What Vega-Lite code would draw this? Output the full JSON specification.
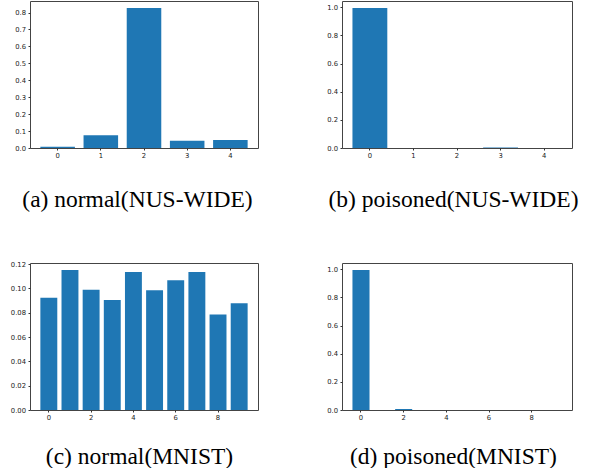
{
  "$schema": "https://vega.github.io/schema/vega-lite/v6.json",
  "padding": {"left": 9, "top": 0, "right": 0, "bottom": 0},
  "background": "white",
  "datasets": {
    "a": [{"k": 0, "p": 0.007}, {"k": 1, "p": 0.075}, {"k": 2, "p": 0.827}, {"k": 3, "p": 0.043}, {"k": 4, "p": 0.047}],
    "b": [{"k": 0, "p": 0.995}, {"k": 1, "p": 0}, {"k": 2, "p": 0}, {"k": 3, "p": 0.004}, {"k": 4, "p": 0}],
    "c": [{"k": 0, "p": 0.0924}, {"k": 1, "p": 0.1151}, {"k": 2, "p": 0.0989}, {"k": 3, "p": 0.0905}, {"k": 4, "p": 0.1135}, {"k": 5, "p": 0.0984}, {"k": 6, "p": 0.1067}, {"k": 7, "p": 0.1135}, {"k": 8, "p": 0.0785}, {"k": 9, "p": 0.0878}],
    "d": [{"k": 0, "p": 0.995}, {"k": 1, "p": 0}, {"k": 2, "p": 0.007}, {"k": 3, "p": 0}, {"k": 4, "p": 0}, {"k": 5, "p": 0}, {"k": 6, "p": 0}, {"k": 7, "p": 0}, {"k": 8, "p": 0}, {"k": 9, "p": 0}]
  },
  "columns": 2,
  "bounds": "flush",
  "spacing": {"row": 115, "column": 84},
  "concat": [
    {
      "width": 228, "height": 147,
      "data": {"name": "a"},
      "mark": {"type": "bar", "color": "#1f77b4"},
      "encoding": {
        "x": {"field": "k", "type": "ordinal", "scale": {"paddingInner": 0.2, "paddingOuter": 0.24},
              "axis": {"title": "(a) normal(NUS-WIDE)", "titleX": 107, "titleY": 58}},
        "y": {"field": "p", "type": "quantitative", "scale": {"domain": [0, 0.868], "nice": false},
              "axis": {"title": null, "values": [0, 0.1, 0.2, 0.3, 0.4, 0.5, 0.6, 0.7, 0.8], "format": ".1f"}}
      }
    },
    {
      "width": 230, "height": 147,
      "data": {"name": "b"},
      "mark": {"type": "bar", "color": "#1f77b4"},
      "encoding": {
        "x": {"field": "k", "type": "ordinal", "scale": {"paddingInner": 0.2, "paddingOuter": 0.24},
              "axis": {"title": "(b) poisoned(NUS-WIDE)", "titleX": 111, "titleY": 58}},
        "y": {"field": "p", "type": "quantitative", "scale": {"domain": [0, 1.045], "nice": false},
              "axis": {"title": null, "values": [0, 0.2, 0.4, 0.6, 0.8, 1.0], "format": ".1f"}}
      }
    },
    {
      "width": 228, "height": 147,
      "data": {"name": "c"},
      "mark": {"type": "bar", "color": "#1f77b4"},
      "encoding": {
        "x": {"field": "k", "type": "ordinal", "scale": {"paddingInner": 0.2, "paddingOuter": 0.49},
              "axis": {"title": "(c) normal(MNIST)", "titleX": 109, "titleY": 53, "values": [0, 2, 4, 6, 8]}},
        "y": {"field": "p", "type": "quantitative", "scale": {"domain": [0, 0.1209], "nice": false},
              "axis": {"title": null, "values": [0, 0.02, 0.04, 0.06, 0.08, 0.1, 0.12], "format": ".2f"}}
      }
    },
    {
      "width": 230, "height": 147,
      "data": {"name": "d"},
      "mark": {"type": "bar", "color": "#1f77b4"},
      "encoding": {
        "x": {"field": "k", "type": "ordinal", "scale": {"paddingInner": 0.2, "paddingOuter": 0.49},
              "axis": {"title": "(d) poisoned(MNIST)", "titleX": 111, "titleY": 53, "values": [0, 2, 4, 6, 8]}},
        "y": {"field": "p", "type": "quantitative", "scale": {"domain": [0, 1.045], "nice": false},
              "axis": {"title": null, "values": [0, 0.2, 0.4, 0.6, 0.8, 1.0], "format": ".1f"}}
      }
    }
  ],
  "config": {
    "view": {"stroke": "#444", "strokeWidth": 1},
    "axis": {
      "domain": false, "grid": false,
      "labelFont": "DejaVu Sans", "labelFontSize": 6.8, "labelColor": "#222",
      "tickColor": "#333", "tickSize": 2, "labelPadding": 2.5,
      "titleFont": "Liberation Serif", "titleFontSize": 23.5, "titleFontWeight": "normal",
      "titleColor": "#000", "titleBaseline": "alphabetic", "titleAlign": "center", "titleAnchor": "start"
    },
    "axisX": {"labelAngle": 0}
  }
}
